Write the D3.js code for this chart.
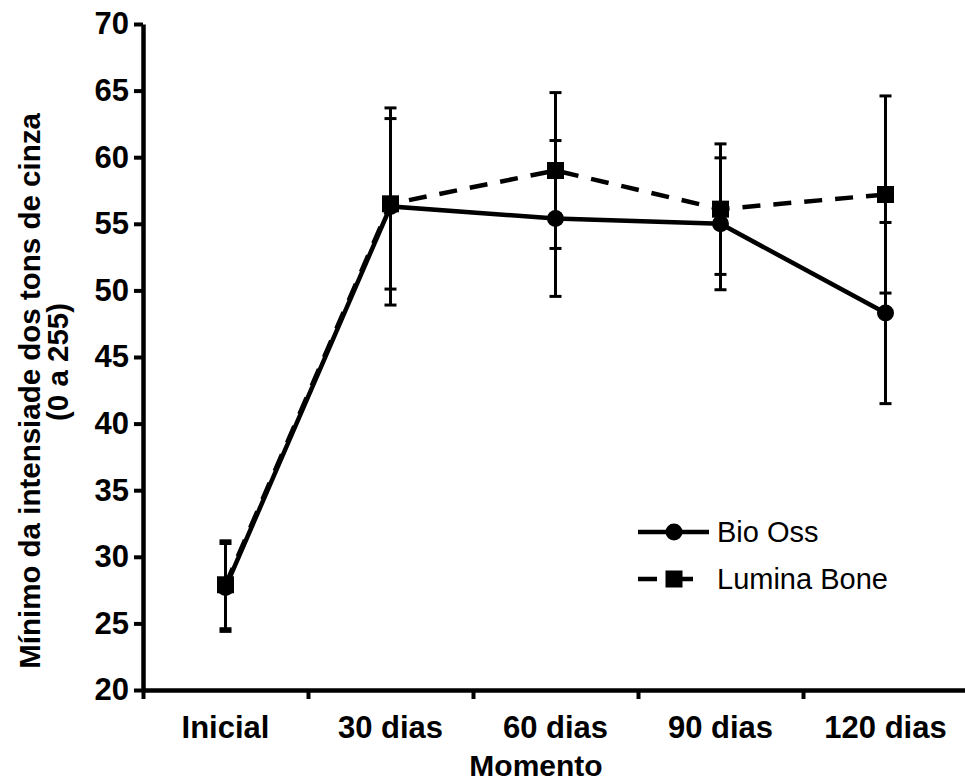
<!DOCTYPE html>
<html>
<head>
<meta charset="utf-8">
<script src="https://cdn.jsdelivr.net/npm/d3@7"></script>
<style>
  body { margin: 0; background: #fff; }
  svg { display: block; font-family: "Liberation Sans", Arial, sans-serif; }
</style>
</head>
<body>
<svg id="chart" width="965" height="781"></svg>
<script>
// data
var categories = ["Inicial", "30 dias", "60 dias", "90 dias", "120 dias"];
var bioOss     = [27.7, 56.3, 55.4, 55.0, 48.3];
var bioOssErr  = [3.3, 7.4, 5.85, 4.95, 6.8];
var lumina     = [27.9, 56.5, 59.0, 56.1, 57.2];
var luminaErr  = [3.3, 6.4, 5.85, 4.9, 7.4];
var yTicks     = [20, 25, 30, 35, 40, 45, 50, 55, 60, 65, 70];
var seriesNames = ["Bio Oss", "Lumina Bone"];

var svg = d3.select("#chart");

var plotLeft = 143, plotRight = 968, plotTop = 24, plotBottom = 690;

var x = d3.scaleBand()
    .domain(categories)
    .range([plotLeft, plotRight]);

// boundary ticks between the categories
var xEdges = d3.scaleLinear()
    .domain([0, categories.length])
    .range([plotLeft, plotRight]);

var y = d3.scaleLinear()
    .domain([20, 70])
    .range([plotBottom, plotTop]);

////////////// axes //////////////
var yAxis = svg.append("g")
    .attr("class", "yAxis")
    .attr("transform", "translate(" + plotLeft + ",0)")
    .call(d3.axisLeft(y).tickValues(yTicks).tickSize(9).tickSizeOuter(0).tickPadding(5));

yAxis.select(".domain").attr("stroke-width", 4.5);
yAxis.selectAll(".tick line").attr("stroke-width", 4);
yAxis.selectAll(".tick text")
    .attr("font-size", 31)
    .attr("font-weight", "bold")
    .attr("fill", "#000");

var xAxis = svg.append("g")
    .attr("class", "xAxis")
    .attr("transform", "translate(0," + plotBottom + ")")
    .call(d3.axisBottom(xEdges).tickValues(d3.range(categories.length + 1)).tickSize(9).tickSizeOuter(0).tickFormat(""));

xAxis.select(".domain").attr("stroke-width", 4.5);
xAxis.selectAll(".tick line").attr("stroke-width", 4);

// category labels at band centres
var xLabels = svg.append("g")
    .attr("transform", "translate(0," + plotBottom + ")")
    .call(d3.axisBottom(x).tickSize(0).tickPadding(26));
xLabels.select(".domain").remove();
xLabels.selectAll(".tick text")
    .attr("font-size", 31)
    .attr("font-weight", "bold")
    .attr("fill", "#000");

// axis titles
svg.append("text")
    .attr("x", 536)
    .attr("y", 776)
    .attr("text-anchor", "middle")
    .attr("font-size", 30)
    .attr("font-weight", "bold")
    .text("Momento");

svg.append("text")
    .attr("transform", "translate(30,391) rotate(-90)")
    .attr("text-anchor", "middle")
    .attr("dy", "0.35em")
    .attr("font-size", 29.5)
    .attr("font-weight", "bold")
    .text("Mínimo da intensiade dos tons de cinza");

svg.append("text")
    .attr("transform", "translate(58,362) rotate(-90)")
    .attr("text-anchor", "middle")
    .attr("dy", "0.35em")
    .attr("font-size", 29.5)
    .attr("font-weight", "bold")
    .text("(0 a 255)");

////////////// series //////////////
var cx = function(i) { return x(categories[i]) + x.bandwidth() / 2; };

function drawSeries(values, errs, dashed, marker) {
    var g = svg.append("g");

    // error bars
    values.forEach(function(v, i) {
        var lo = y(v - errs[i]), hi = y(v + errs[i]);
        g.append("line")
            .attr("x1", cx(i)).attr("x2", cx(i))
            .attr("y1", lo).attr("y2", hi)
            .attr("stroke", "#000").attr("stroke-width", 3);
        [lo, hi].forEach(function(yy) {
            g.append("line")
                .attr("x1", cx(i) - 6).attr("x2", cx(i) + 6)
                .attr("y1", yy).attr("y2", yy)
                .attr("stroke", "#000").attr("stroke-width", 3);
        });
    });

    var line = d3.line()
        .x(function(d, i) { return cx(i); })
        .y(function(d) { return y(d); });

    g.append("path")
        .datum(values)
        .attr("d", line)
        .attr("fill", "none")
        .attr("stroke", "#000")
        .attr("stroke-width", 4.5)
        .attr("stroke-dasharray", dashed ? "18,13" : null);

    values.forEach(function(v, i) {
        if (marker == "circle") {
            g.append("circle").attr("cx", cx(i)).attr("cy", y(v)).attr("r", 8.5).attr("fill", "#000");
        } else {
            g.append("rect").attr("x", cx(i) - 8.5).attr("y", y(v) - 8.5)
                .attr("width", 17).attr("height", 17).attr("fill", "#000");
        }
    });
}

drawSeries(bioOss, bioOssErr, false, "circle");
drawSeries(lumina, luminaErr, true, "square");

////////////// legend //////////////
var legend = svg.append("g").attr("class", "legend");
var legendRows = [532, 579];

legend.append("line")
    .attr("x1", 638).attr("x2", 709).attr("y1", legendRows[0]).attr("y2", legendRows[0])
    .attr("stroke", "#000").attr("stroke-width", 4.5);
legend.append("circle").attr("cx", 674).attr("cy", legendRows[0]).attr("r", 8.5);

legend.append("line")
    .attr("x1", 638).attr("x2", 693).attr("y1", legendRows[1]).attr("y2", legendRows[1])
    .attr("stroke", "#000").attr("stroke-width", 4.5)
    .attr("stroke-dasharray", "19,9,27");
legend.append("rect").attr("x", 665.5).attr("y", legendRows[1] - 8.5).attr("width", 17).attr("height", 17);

legend.selectAll("text.lbl")
    .data(seriesNames)
    .enter()
    .append("text")
    .attr("class", "lbl")
    .attr("x", 717)
    .attr("y", function(d, i) { return legendRows[i]; })
    .attr("dy", "0.35em")
    .attr("font-size", 29)
    .text(function(d) { return d; });
</script>
</body>
</html>
